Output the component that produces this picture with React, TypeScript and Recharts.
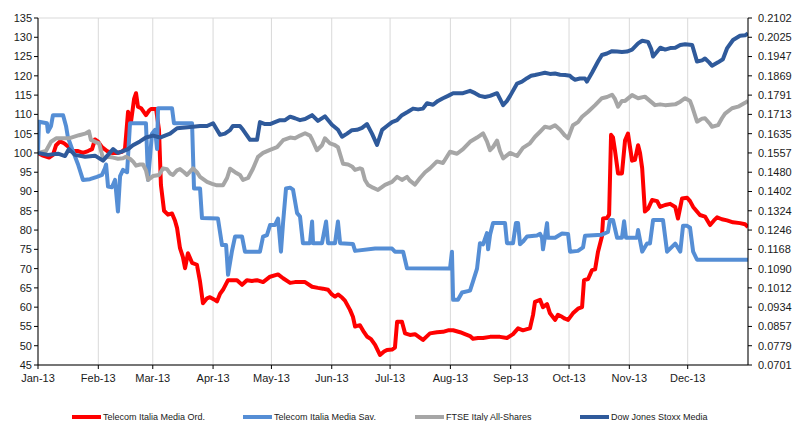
import React from 'react';
import { LineChart, Line, XAxis, YAxis, CartesianGrid } from 'recharts';

// x = day of 2013 (0 = 1 Jan), y = index (base 100)
const monthTicks = [0, 31, 59, 90, 120, 151, 181, 212, 243, 273, 304, 334];
const monthLabels = ['Jan-13', 'Feb-13', 'Mar-13', 'Apr-13', 'May-13', 'Jun-13', 'Jul-13', 'Aug-13', 'Sep-13', 'Oct-13', 'Nov-13', 'Dec-13'];
const leftTicks = [45, 50, 55, 60, 65, 70, 75, 80, 85, 90, 95, 100, 105, 110, 115, 120, 125, 130, 135];
const rightTickLabels = ['0.0701', '0.0779', '0.0857', '0.0934', '0.1012', '0.1090', '0.1168', '0.1246', '0.1324', '0.1402', '0.1480', '0.1557', '0.1635', '0.1713', '0.1791', '0.1869', '0.1947', '0.2025', '0.2102'];

const seriesNames = ['Telecom Italia Media Ord.', 'Telecom Italia Media Sav.', 'FTSE Italy All-Shares', 'Dow Jones Stoxx Media'];

const ordSeries: [number, number][] = [
  [0, 100], [2.6, 99.3], [5.7, 98.8], [7.7, 99.5], [9.3, 102], [11.3, 103], [13.4, 102.5], [15.4, 101.7], [18, 100.5], [20.6, 100.5], [23.1, 100], [25.7, 100.5], [27.8, 101], [29.3, 103.5], [30.8, 103], [32.9, 101.5], [35.5, 100.5], [38, 100], [40.6, 100], [43.2, 100.3], [44.7, 101], [46.3, 110.7], [47.8, 108], [49.4, 114], [50.4, 115.5], [51.4, 112], [53, 111.6], [55.5, 109.8], [57.1, 111], [58.1, 111.4], [60.7, 111.4], [62.2, 106], [63.2, 91.7], [64.8, 85], [66.8, 84], [68.9, 84.3], [70.4, 82.5], [71.5, 80.5], [73, 75.3], [74.5, 73], [75.6, 70.1], [77.1, 74], [79.2, 71.5], [81.7, 71], [83.3, 66.6], [84.8, 61], [86.9, 62.3], [88.4, 62.6], [90.5, 62], [92, 61.5], [93.6, 63.5], [95.1, 64.5], [97.7, 67], [99.7, 67], [102.3, 67], [104.9, 65.8], [107.4, 67], [110, 66.8], [112.6, 67], [115.7, 66.5], [119.3, 67.9], [123.4, 68.5], [126, 67.5], [129.6, 66.3], [132.1, 66.5], [134.7, 66.5], [137.3, 66.5], [140.9, 65.3], [143.9, 65], [146.5, 64.8], [149.1, 64.5], [151.1, 63.3], [152.7, 62.7], [154.2, 63.3], [156.3, 62.5], [157.8, 61.7], [160.4, 59.3], [161.9, 57.5], [163, 55], [164.5, 55.2], [165.5, 55.3], [167.6, 53.5], [169.1, 52.4], [171.2, 51.7], [173.3, 50.2], [175.8, 47.6], [177.9, 48.5], [179.4, 48.9], [182, 49], [183.5, 49.5], [184.6, 56.2], [187.1, 56.2], [188.7, 53.2], [191.2, 52.8], [193.8, 53], [197.9, 51.5], [200, 52.5], [201.5, 53.2], [205.1, 53.5], [208.2, 53.6], [210.8, 54], [213.4, 54], [217, 53.5], [219.5, 53], [222.1, 52.5], [223.6, 51.8], [226.2, 52], [228.8, 52], [232.4, 52.3], [237.5, 52.3], [241.1, 52], [244.2, 53], [246.8, 54.5], [249.3, 54], [251.4, 54.3], [252.9, 54.5], [254.5, 58], [255.5, 61.4], [258.1, 61.9], [259.6, 60], [261.7, 60.8], [263.2, 58.4], [265.8, 56.7], [267.3, 58], [269.4, 57.5], [270.9, 57], [272.5, 56.7], [275, 58.4], [277.6, 59.6], [279.7, 60], [280.7, 67], [282.8, 67.3], [284.8, 69.6], [286.4, 69.8], [287.9, 74.4], [289.9, 78.3], [290.5, 83], [292.5, 83.1], [293.6, 84], [294.6, 104.7], [295.6, 104], [296.6, 100.7], [298.2, 94.7], [300.2, 94.7], [301.8, 103.3], [303.3, 105], [305.4, 98], [306.9, 98.2], [308.5, 102], [309.5, 100], [310.6, 96], [312, 84.8], [313.6, 85.5], [315.7, 87.8], [318.3, 87.5], [319.8, 86], [322.4, 86.5], [325, 86.8], [327.6, 86], [329, 83], [331.1, 88.2], [333.7, 88.4], [335.2, 87.5], [336.8, 86], [340.3, 83.9], [342.9, 83.5], [345.5, 81.3], [347.5, 82.5], [349.1, 83.3], [351.6, 82.8], [354.2, 82.5], [357.3, 82], [360.9, 81.8], [363.5, 81.5], [365, 80.8],
];

const savSeries: [number, number][] = [
  [0, 100], [0.5, 108.1], [4.6, 107.7], [5.1, 105.5], [6.7, 107], [7.7, 109.8], [12.9, 109.8], [14.4, 107], [15.4, 104], [18, 100.4], [20.6, 97], [23.1, 93], [26.7, 93.2], [30.3, 93.8], [32.9, 94.3], [34.4, 96], [35, 97], [36, 91.3], [38, 91.1], [39.6, 93], [41.1, 84.8], [42.2, 94], [43.7, 95.6], [45.8, 95], [47.3, 107.7], [55.5, 107.7], [56.6, 93], [58.6, 105], [60.2, 106], [61.2, 101], [61.7, 111.6], [68.9, 111.6], [69.9, 107.7], [79.2, 107.7], [80.2, 90.8], [83.3, 90.8], [84.3, 83.1], [92.5, 83], [94.6, 76.1], [96.7, 76.1], [97.7, 68.4], [99.7, 74.5], [101.3, 78.3], [104.9, 78.3], [106.4, 74.4], [114.1, 74.4], [115.7, 78.3], [117.7, 78.7], [119.3, 81.3], [121.8, 81.3], [123.4, 83], [124.9, 74.4], [126, 82], [127.5, 90.8], [129.6, 91], [131.1, 90.5], [133.2, 84.4], [134.7, 83.5], [136.2, 76.6], [139.8, 76.6], [140.9, 82.2], [141.4, 76.6], [146, 76.6], [148.1, 82.2], [149.1, 76.6], [152.7, 76.6], [154.2, 82.2], [155.3, 76.6], [161.9, 76.4], [163, 74.6], [173.3, 75.2], [182, 75.2], [183.5, 74.4], [187.7, 74.4], [189.7, 70.1], [211.8, 70], [212.8, 74.4], [213.4, 61.9], [215.9, 61.9], [218, 63.8], [222.1, 64.3], [223.6, 66.6], [225.7, 70], [227.2, 76.6], [228.8, 76.3], [230.8, 79.2], [231.4, 75], [232.4, 78.8], [233.9, 81.8], [240.1, 81.8], [241.1, 76.6], [244.2, 76.6], [245.7, 81.8], [246.8, 81.8], [247.8, 76.3], [249.3, 77], [251.4, 78.3], [256.5, 78.6], [258.1, 79], [259.1, 78], [259.6, 75], [261.7, 81.8], [262.2, 78], [265.8, 78], [269.4, 79.1], [272.5, 79], [273.5, 74.4], [277.6, 74.6], [280.2, 75.5], [281.2, 78.5], [289.9, 78.8], [293, 79.5], [294, 82.6], [295.6, 82.6], [297.7, 78], [300.2, 78], [301.3, 82.3], [302.3, 78], [307.9, 78], [308.5, 80], [310.6, 74.4], [313.1, 76.5], [314.6, 76.5], [316.2, 82.6], [321.3, 82.6], [323.4, 74.4], [327.6, 76.5], [330.2, 74.4], [331.6, 81.1], [333.7, 81.1], [335.2, 80.6], [336.8, 74.4], [338.8, 72.3], [365, 72.3],
];

const ftseSeries: [number, number][] = [
  [0, 100], [4.1, 100.5], [6.7, 102.9], [9.3, 103.8], [12.9, 103.8], [15.9, 103.8], [21.1, 104.6], [24.2, 105], [26.2, 105.6], [27.2, 103.4], [29.8, 102.8], [31.4, 102.5], [33.4, 98.6], [36, 99], [38.6, 98.8], [41.1, 98.5], [43.7, 98.6], [45.2, 99], [47.3, 98.5], [48.8, 97.8], [50.4, 96.7], [52.4, 97], [54, 97], [55.5, 95.5], [56.6, 93], [59.1, 94], [62.2, 94.3], [64.3, 96], [66.3, 95.8], [67.9, 94.7], [69.4, 94.3], [71.5, 95.5], [73, 95.8], [75.1, 95], [76.6, 94.3], [79.7, 96], [81.7, 95], [83.3, 93.8], [86.9, 92.5], [89.5, 92], [92, 91.6], [95.1, 91.6], [97.2, 93.5], [98.7, 95.9], [101.3, 95], [103.8, 94.3], [105.4, 93], [108, 93.5], [110.5, 95.9], [113.1, 99], [115.7, 100], [119.3, 100.8], [122.9, 101.5], [126, 103.3], [129.6, 104], [132.1, 103.8], [134.7, 104.5], [137.3, 105.1], [139.8, 104.5], [140.9, 103.5], [143.4, 100.7], [146, 102], [147.5, 103.8], [150.1, 102.5], [152.7, 102], [154.2, 101.5], [156.8, 97.2], [159.4, 97], [161.4, 96.5], [163, 95.6], [165.5, 96], [166.6, 95.8], [168.1, 93], [169.7, 91.7], [172.2, 91], [174.8, 90.4], [178.4, 91.7], [182, 92.5], [184.6, 93.8], [187.1, 93], [189.7, 93.8], [191.2, 92.8], [193.8, 91.8], [196.4, 93.5], [199, 95], [201.5, 96], [205.1, 97.8], [208.2, 97.4], [211.8, 100.3], [215.4, 99.8], [218.5, 101], [222.1, 102.9], [225.7, 104], [228.8, 105.1], [230.8, 103], [232.4, 100.7], [233.9, 101.5], [236, 103.2], [237.5, 100.5], [239.1, 98.6], [242.7, 100], [246.3, 99.2], [249.3, 101.3], [252.9, 102.5], [255.5, 104.2], [258.1, 105.5], [260.6, 106.8], [263.2, 106.5], [265.8, 107.2], [268.4, 106], [270.9, 104.5], [272.5, 103.8], [275, 107.2], [277.6, 108], [279.7, 109.4], [282.8, 110.7], [286.4, 112.4], [289.9, 114.2], [292.5, 114.5], [295.1, 115.1], [296.6, 114], [298.2, 112], [300.2, 113.5], [301.8, 113.5], [305.4, 115], [308.5, 114.2], [312, 114.6], [314.6, 113.5], [317.2, 112.4], [319.8, 112.6], [322.4, 112.4], [325, 112.5], [327.6, 112.6], [330.2, 113.3], [332.7, 114.2], [335.2, 113.5], [336.3, 112], [338.8, 108.1], [341.4, 108.9], [342.9, 109], [345.5, 107.5], [346.5, 106.8], [349.6, 107.2], [351.6, 109], [353.2, 110.2], [356.8, 111.6], [359.9, 112], [363.5, 113], [365, 113.5],
];

const stoxxSeries: [number, number][] = [
  [0, 100], [5.1, 99.5], [10.3, 99.8], [13.9, 99.2], [15.9, 101], [19, 99.5], [24.2, 99], [29.3, 99.3], [33.4, 98], [36, 99.5], [38.6, 101], [41.1, 100], [43.7, 100.5], [46.3, 101], [48.8, 102], [52.4, 103], [55.5, 104], [59.1, 104.5], [62.7, 104], [65.3, 104.5], [67.9, 105], [71.5, 106.4], [75.6, 106.6], [79.7, 106.8], [83.3, 107], [86.9, 107], [90, 107.7], [92, 106], [93.6, 104.7], [96.1, 105], [98.7, 105.9], [100.2, 107], [103.8, 107], [105.4, 106], [109, 103.4], [112.6, 103.4], [114.1, 108], [116.7, 107.5], [119.3, 107.5], [121.8, 108], [124.4, 108.5], [127, 108.5], [129.6, 109.4], [132.1, 109], [134.7, 108.5], [137.3, 108.8], [140.9, 109.8], [143.9, 108.3], [147.5, 109.5], [151.1, 107.3], [154.2, 106], [156.3, 104.2], [158.9, 105], [161.4, 105.9], [164, 106], [166.6, 106.5], [169.1, 107.5], [171.7, 105], [174.3, 102.1], [176.9, 106], [179.4, 107], [182, 108], [184.6, 108.5], [187.1, 109.8], [190.2, 110.7], [192.8, 111.5], [195.4, 111.3], [197.9, 111.5], [200, 112.9], [203.1, 112.5], [205.6, 113.5], [208.2, 114.2], [210.8, 114.8], [213.4, 115.5], [215.9, 115.5], [218.5, 115.5], [222.1, 116.1], [224.7, 115.5], [227.2, 114.8], [229.8, 114.5], [232.4, 114.8], [236, 115.5], [237.5, 114], [239.1, 112.4], [241.1, 113.5], [242.7, 114.8], [246.3, 118], [248.8, 118.5], [251.4, 119.4], [253.5, 120], [255.5, 120.2], [258.1, 120.5], [260.6, 120.8], [263.2, 120.5], [265.8, 120.6], [268.4, 120.3], [270.9, 120.2], [273.5, 120], [274.5, 119.5], [276.1, 119], [278.6, 119.3], [281.2, 119.3], [282.2, 118.5], [284.8, 120.8], [287.9, 123.7], [289.9, 125.4], [292.5, 125.8], [295.1, 126.4], [297.7, 126.3], [300.2, 126.2], [302.8, 126.3], [305.4, 126.8], [308.5, 128.4], [310.6, 129.1], [313.6, 128.8], [315.2, 127], [316.2, 125], [317.8, 126], [319.9, 127.3], [322.4, 126.8], [325, 127.2], [327.6, 127.3], [330.2, 128], [332.7, 128.2], [336.3, 128], [338.8, 123.7], [341.4, 124], [342.9, 124.5], [345, 123.5], [346.5, 122.6], [349.6, 123.5], [352.1, 124.3], [354.2, 127.1], [357.3, 129.3], [360.9, 130.4], [363.5, 130.5], [365, 131],
];

const seriesColors = ['#FF0000', '#558ED5', '#A6A6A6', '#2F5A9B'];

const toRows = (s: [number, number][]) => s.map(([d, v]) => ({ d, v }));

const FONT = '"Liberation Sans", Arial, sans-serif';
const legendLefts = [72, 243, 415, 580];

export default function App() {
  const all = [ordSeries, savSeries, ftseSeries, stoxxSeries];
  return (
    <div style={{ position: 'absolute', left: 0, top: 0, width: 795, height: 421, background: '#fff', fontFamily: FONT }}>
      <LineChart width={795} height={421} margin={{ top: 18, right: 0, left: 0, bottom: 26 }}>
        <CartesianGrid stroke="#D9D9D9" strokeWidth={1} />
        <XAxis
          type="number"
          dataKey="d"
          domain={[0, 365]}
          ticks={monthTicks}
          interval={0}
          allowDataOverflow
          tickFormatter={(v: number) => monthLabels[monthTicks.indexOf(v)] ?? ''}
          height={30}
          tickSize={4}
          tickMargin={5}
          stroke="#000"
          tick={{ fill: '#1a1a1a', fontSize: 11, fontFamily: FONT }}
        />
        <YAxis
          yAxisId="left"
          domain={[45, 135]}
          ticks={leftTicks}
          interval={0}
          allowDataOverflow
          width={38}
          tickSize={4}
          tickMargin={2}
          stroke="#000"
          tick={{ fill: '#1a1a1a', fontSize: 11, fontFamily: FONT }}
        />
        <YAxis
          yAxisId="right"
          orientation="right"
          domain={[45, 135]}
          ticks={leftTicks}
          interval={0}
          allowDataOverflow
          width={47}
          tickSize={4}
          tickMargin={6}
          stroke="#000"
          tickFormatter={(v: number) => rightTickLabels[leftTicks.indexOf(v)] ?? ''}
          tick={{ fill: '#1a1a1a', fontSize: 11, fontFamily: FONT }}
        />
        {all.map((s, i) => (
          <Line
            key={seriesNames[i]}
            yAxisId={i === 3 ? 'right' : 'left'}
            data={toRows(s)}
            dataKey="v"
            name={seriesNames[i]}
            type="linear"
            stroke={seriesColors[i]}
            strokeWidth={4}
            strokeLinejoin="round"
            dot={false}
            activeDot={false}
            isAnimationActive={false}
          />
        ))}
      </LineChart>
      {seriesNames.map((n, i) => (
        <div
          key={n}
          style={{ position: 'absolute', left: legendLefts[i], top: 411, height: 12, display: 'flex', alignItems: 'center', whiteSpace: 'nowrap' }}
        >
          <div style={{ width: 29, height: 4, background: seriesColors[i], marginRight: 2 }} />
          <span style={{ fontSize: 9, color: '#1a1a1a', fontFamily: FONT, lineHeight: '12px' }}>{n}</span>
        </div>
      ))}
    </div>
  );
}
